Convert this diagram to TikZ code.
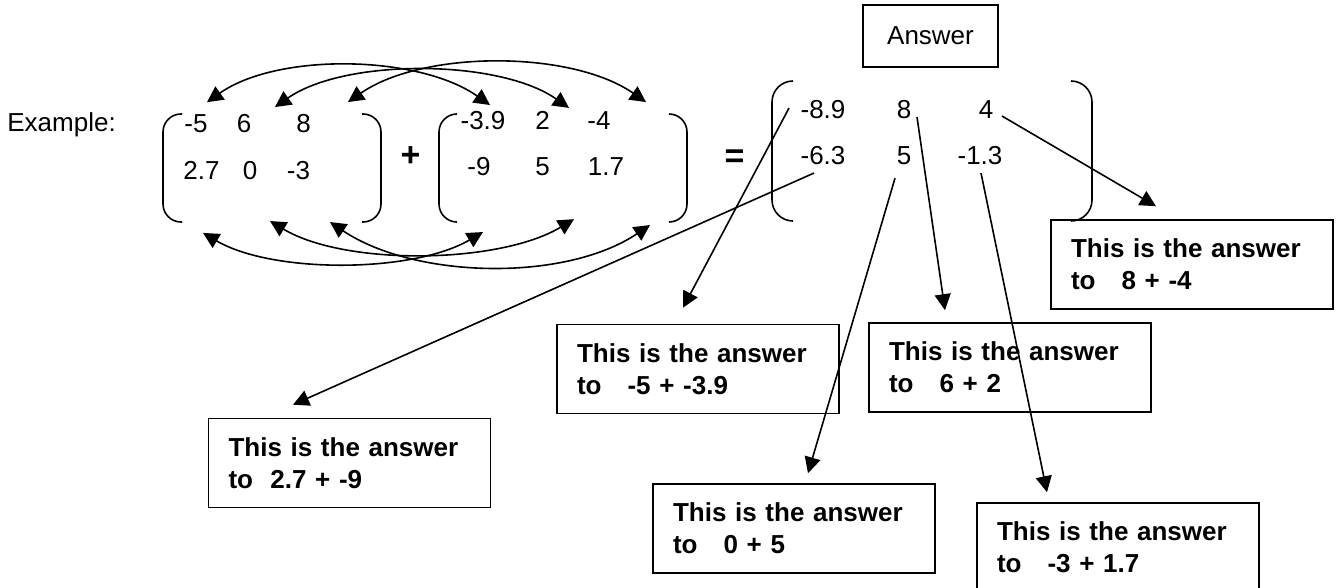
\documentclass[tikz,border=0pt]{standalone}
\usepackage{fontspec}
\setmainfont{Liberation Sans}
\usetikzlibrary{arrows.meta,calc}
\tikzset{
  entry/.style={inner sep=0pt, anchor=base, font=\fontsize{13}{16}\selectfont},
  sign/.style={inner sep=0pt, font=\fontsize{17}{20}\selectfont\bfseries},
  ansbox/.style={draw, line width=0.8pt, align=left, text width=121pt, inner xsep=10pt, inner ysep=0pt, minimum height=44.5pt, font=\fontsize{13}{16}\selectfont\bfseries},
  paren/.style={line width=0.8pt, rounded corners=9pt},
  arr/.style={-{Triangle[length=8pt,width=8pt]}, line width=0.8pt},
  dbl/.style={{Triangle[length=8pt,width=8pt]}-{Triangle[length=8pt,width=8pt]}, line width=0.8pt},
}

\begin{document}
\begin{tikzpicture}[x=0.5pt, y=-0.5pt]
    \useasboundingbox (0,0) rectangle (1337,588);
    \node[entry, anchor=base west] (lbl) at (7,132) {Example:};
    % first matrix
    \foreach \n/\val/\x/\y in {a11/-5/196/133, a12/6/244/133, a13/8/303.5/133, a21/2.7/201.5/180, a22/0/250/180, a23/-3/298.5/180}
      \node[entry] (\n) at (\x,\y) {\val};
    \draw[paren] (182,114) -- (163,114) -- (163,222) -- (182,222);
    \draw[paren] (362,114) -- (381,114) -- (381,222) -- (362,222);
    \node[sign] (plus) at (410.5,157) {+};
    % second matrix
    \foreach \n/\val/\x/\y in {b11/-3.9/483/130, b12/2/542.5/130, b13/-4/599/130, b21/-9/479/176, b22/5/542.5/176, b23/1.7/606/176}
      \node[entry] (\n) at (\x,\y) {\val};
    \draw[paren] (457,114) -- (439,114) -- (439,222) -- (457,222);
    \draw[paren] (669,114) -- (687,114) -- (687,222) -- (669,222);
    \node[sign] (eq) at (734.5,158.5) {=};
    % result
    \foreach \n/\val/\x/\y in {r11/-8.9/823/119, r12/8/904/119, r13/4/986/119, r21/-6.3/823/165, r22/5/904/165, r23/-1.3/980/165}
      \node[entry] (\n) at (\x,\y) {\val};
    \draw[paren, rounded corners=10.5pt] (793,81) -- (772,81) -- (772,221) -- (793,221);
    \draw[paren, rounded corners=10.5pt] (1071,81) -- (1092,81) -- (1092,221) -- (1071,221);
    \node[entry, draw, line width=0.8pt, anchor=center, minimum width=67.5pt, minimum height=31pt] (ans) at (930.5,36) {Answer};

    % which entries are added
    \draw[dbl] ($(a11)+(11,-22)$) .. controls +(71,-50) and +(-71,-50) .. ($(b11)+(7,-16)$);
    \draw[dbl] ($(a12)+(31,-17)$) .. controls +(70,-49) and +(-70,-49) .. ($(b12)+(26.5,-13)$);
    \draw[dbl] ($(a13)+(44.5,-22)$) .. controls +(75,-52) and +(-75,-52) .. ($(b13)+(47,-19)$);
    \draw[dbl] ($(a21)+(1.5,62)$) .. controls +(70,41) and +(-70,41) .. ($(b21)+(4,65)$);
    \draw[dbl] ($(a22)+(20,50)$) .. controls +(75,45) and +(-75,45) .. ($(b22)+(31.5,52)$);
    \draw[dbl] ($(a23)+(31.5,51)$) .. controls +(85,57) and +(-85,57) .. ($(b23)+(44,58)$);

    % explanations
    \node[ansbox] (box11) at (698,369) {This is the answer\\to\ \ \ -5 + -3.9};
    \node[ansbox] (box12) at (1010,367.5) {This is the answer\\to\ \ \ 6 + 2};
    \node[ansbox] (box13) at (1192,264.5) {This is the answer\\to\ \ \ 8 + -4};
    \node[ansbox] (box21) at (349.5,463) {This is the answer\\to\ \ 2.7 + -9};
    \node[ansbox] (box22) at (794,528.5) {This is the answer\\to\ \ \ 0 + 5};
    \node[ansbox] (box23) at (1118,547.5) {This is the answer\\to\ \ \ -3 + 1.7};

    \draw[arr] ($(r11)+(-34,-2)$) -- ($(box11.north)+(-15,-16)$);
    \draw[arr] ($(r12)+(13,7)$) -- ($(box12.north)+(-65,-12)$);
    \draw[arr] ($(r13)+(16,6)$) -- ($(box13.north)+(-36,-13)$);
    \draw[arr] ($(r21)+(-9,17)$) -- ($(box21.north)+(-56.5,-13)$);
    \draw[arr] ($(r22)+(-9,22)$) -- ($(box22.north)+(14,-10)$);
    \draw[arr] ($(r23)+(1,17)$) -- ($(box23.north)+(-71,-10)$);
  \end{tikzpicture}
\end{document}
